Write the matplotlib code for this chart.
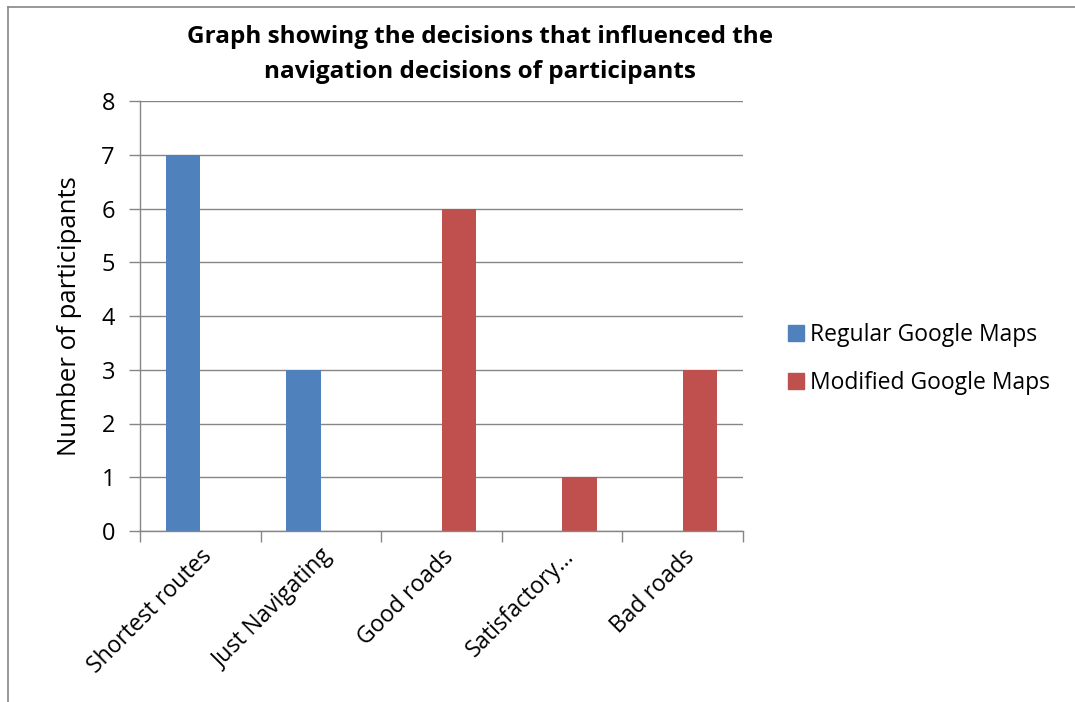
import matplotlib.pyplot as plt
from matplotlib.lines import Line2D
import numpy as np

plt.rcParams['font.family'] = ['Open Sans', 'DejaVu Sans']

categories = ['Shortest routes', 'Just Navigating', 'Good roads', 'Satisfactory…', 'Bad roads']
regular = [7, 3, 0, 0, 0]
modified = [0, 0, 6, 1, 3]
series_names = ['Regular Google Maps', 'Modified Google Maps']
colors = ['#4F81BD', '#C0504D']

fig = plt.figure(figsize=(10.75, 7.02), dpi=100)
ax = fig.add_axes([140 / 1075, 1 - 531 / 702, 603 / 1075, 430 / 702])

x = np.arange(len(categories))
w = 0.286
ax.bar(x - w / 2, regular, w, color=colors[0], label=series_names[0])
ax.bar(x + w / 2, modified, w, color=colors[1], label=series_names[1])

ax.set_xlim(-0.5, len(categories) - 0.5)
ax.set_ylim(0, 8)
ax.set_yticks(range(9))
ax.yaxis.grid(True, color='#868686', linewidth=1)
ax.set_axisbelow(True)

ax.set_xticks(x)
ax.set_xticklabels(categories, rotation=45, ha='right', rotation_mode='anchor', fontsize=16.5)
ax.set_xticks(np.arange(-0.5, len(categories)), minor=True)
ax.tick_params(axis='x', which='major', length=0, pad=10)
ax.tick_params(axis='x', which='minor', length=8, color='#868686', width=1)
ax.tick_params(axis='y', length=8, color='#868686', width=1, labelsize=17, pad=10)

for s in ['top', 'right']:
    ax.spines[s].set_visible(False)
for s in ['left', 'bottom']:
    ax.spines[s].set_color('#868686')
    ax.spines[s].set_linewidth(1)

ax.set_ylabel('Number of participants', fontsize=18.5, labelpad=14)

fig.text(480 / 1075, 1 - 37 / 702, 'Graph showing the decisions that influenced the',
         ha='center', va='center', fontsize=17.5, fontweight='bold')
fig.text(480 / 1075, 1 - 72 / 702, 'navigation decisions of participants',
         ha='center', va='center', fontsize=17.5, fontweight='bold')

handles = [Line2D([], [], marker='s', linestyle='none', markersize=12,
                  markerfacecolor=c, markeredgecolor=c) for c in colors]
fig.legend(handles, series_names, loc='center left', bbox_to_anchor=(762 / 1075, 1 - 359 / 702),
           frameon=False, fontsize=16.5, handletextpad=0.0, labelspacing=1.05, handlelength=1.2)

# outer chart border
fig.add_artist(Line2D([8 / 1075, 8 / 1075], [0, 1 - 7 / 702], transform=fig.transFigure,
                      color='#868686', linewidth=1.2))
fig.add_artist(Line2D([8 / 1075, 1], [1 - 7 / 702, 1 - 7 / 702], transform=fig.transFigure,
                      color='#868686', linewidth=1.2))

fig.savefig('out.png', dpi=100)
